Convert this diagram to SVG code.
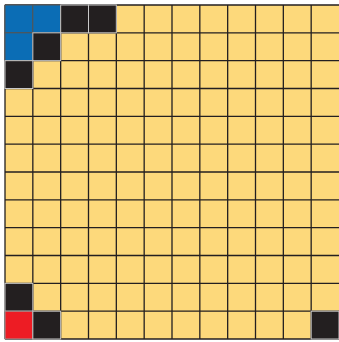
<svg xmlns="http://www.w3.org/2000/svg" width="339" height="342" viewBox="0 0 339 342">
<style>
.bg{fill:#fdd97b}
.g{stroke:#231f20;stroke-width:1.3;fill:none}
.k{fill:#231f20;stroke:#c9c9c9;stroke-width:1}
.b{fill:#0b6db5;stroke:#555;stroke-width:1}
.r{fill:#ed1c24;stroke:#999;stroke-width:1}
</style>
<rect width="339" height="342" fill="#ffffff"/>
<rect class="bg" x="5" y="5" width="334" height="334"/>
<g id="grid" class="g">
<path d="M5 5V339M32.83 5V339M60.67 5V339M88.5 5V339M116.33 5V339M144.17 5V339M172 5V339M199.83 5V339M227.67 5V339M255.5 5V339M283.33 5V339M311.17 5V339"/>
<path d="M5 5H339M5 32.83H339M5 60.67H339M5 88.5H339M5 116.33H339M5 144.17H339M5 172H339M5 199.83H339M5 227.67H339M5 255.5H339M5 283.33H339M5 311.17H339M5 339H339"/>
</g>
<g id="cells">
<rect class="b" x="5" y="5" width="27.83" height="27.83"/>
<rect class="b" x="32.83" y="5" width="27.83" height="27.83"/>
<rect class="b" x="5" y="32.83" width="27.83" height="27.83"/>
<rect class="k" x="60.67" y="5" width="27.83" height="27.83"/>
<rect class="k" x="88.5" y="5" width="27.83" height="27.83"/>
<rect class="k" x="32.83" y="32.83" width="27.83" height="27.83"/>
<rect class="k" x="5" y="60.67" width="27.83" height="27.83"/>
<rect class="k" x="5" y="283.33" width="27.83" height="27.83"/>
<rect class="r" x="5" y="311.17" width="27.83" height="27.83"/>
<rect class="k" x="32.83" y="311.17" width="27.83" height="27.83"/>
<rect class="k" x="311.17" y="311.17" width="27.83" height="27.83"/>
</g>
</svg>
